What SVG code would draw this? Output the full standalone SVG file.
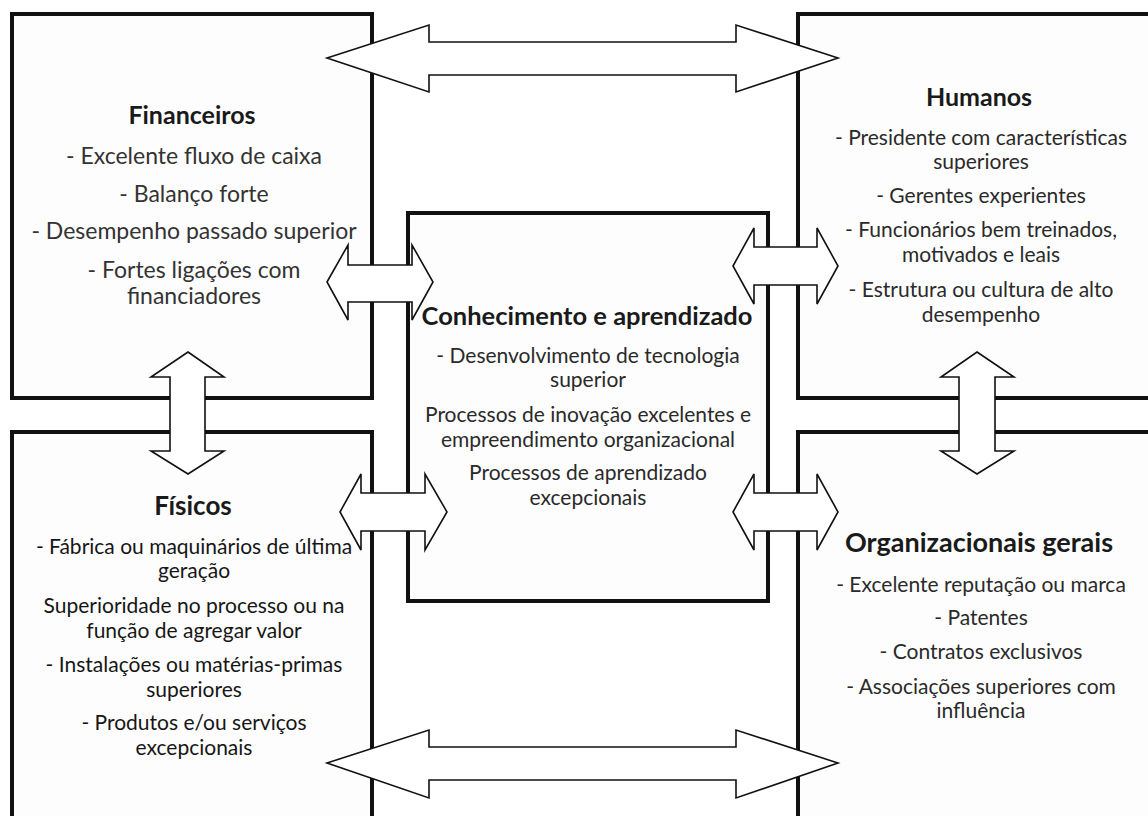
<svg xmlns="http://www.w3.org/2000/svg" width="1148" height="816" viewBox="0 0 1148 816">
  <style>
    .box { fill: #fdfdfd; stroke: #111; stroke-width: 4; }
    .arrow { fill: #ffffff; stroke: #111; stroke-width: 1.6; stroke-linejoin: miter; }
    text { font-family: Lato, "Open Sans", "Liberation Sans", sans-serif; text-anchor: middle; }
    .title { font-size: 25px; font-weight: bold; fill: #1a1a1a; }
    .title-lg { font-size: 26px; font-weight: bold; fill: #1a1a1a; }
    .body-lg { font-size: 23px; fill: #333; }
    .body { font-size: 21px; fill: #2a2a2a; }
    .body-dk { font-size: 21px; fill: #161616; }
  </style>
  <rect width="1148" height="816" fill="#ffffff"/>

  <!-- Financeiros -->
  <g id="financeiros">
    <rect class="box" x="12" y="14" width="360" height="384"/>
    <text class="title" x="192" y="124">Financeiros</text>
    <text class="body-lg" x="194" y="164">- Excelente fluxo de caixa</text>
    <text class="body-lg" x="194" y="202">- Balanço forte</text>
    <text class="body-lg" x="194" y="239">- Desempenho passado superior</text>
    <text class="body-lg" x="194" y="278">- Fortes ligações com</text>
    <text class="body-lg" x="194" y="304">financiadores</text>
  </g>

  <!-- Humanos -->
  <g id="humanos">
    <rect class="box" x="798" y="14" width="360" height="384"/>
    <text class="title" x="979" y="106">Humanos</text>
    <text class="body" x="981" y="145">- Presidente com características</text>
    <text class="body" x="981" y="169">superiores</text>
    <text class="body" x="981" y="203">- Gerentes experientes</text>
    <text class="body" x="981" y="237">- Funcionários bem treinados,</text>
    <text class="body" x="981" y="262">motivados e leais</text>
    <text class="body" x="981" y="297">- Estrutura ou cultura de alto</text>
    <text class="body" x="981" y="322">desempenho</text>
  </g>

  <!-- Físicos -->
  <g id="fisicos">
    <rect class="box" x="12" y="432" width="360" height="400"/>
    <text class="title-lg" x="193" y="515">Físicos</text>
    <text class="body-dk" x="194" y="554">- Fábrica  ou maquinários de última</text>
    <text class="body-dk" x="194" y="578">geração</text>
    <text class="body-dk" x="194" y="613">Superioridade no processo ou na</text>
    <text class="body-dk" x="194" y="638">função de agregar valor</text>
    <text class="body-dk" x="194" y="672">- Instalações ou matérias-primas</text>
    <text class="body-dk" x="194" y="697">superiores</text>
    <text class="body-dk" x="194" y="730">- Produtos e/ou serviços</text>
    <text class="body-dk" x="194" y="755">excepcionais</text>
  </g>

  <!-- Organizacionais gerais -->
  <g id="organizacionais">
    <rect class="box" x="798" y="432" width="360" height="400"/>
    <text class="title-lg" x="979" y="552" style="font-size:27px">Organizacionais gerais</text>
    <text class="body" x="981" y="592">- Excelente reputação ou marca</text>
    <text class="body" x="981" y="625">- Patentes</text>
    <text class="body" x="981" y="659">- Contratos exclusivos</text>
    <text class="body" x="981" y="694">- Associações superiores com</text>
    <text class="body" x="981" y="718">influência</text>
  </g>

  <!-- Conhecimento e aprendizado -->
  <g id="conhecimento">
    <rect class="box" x="408" y="213" width="360" height="388"/>
    <text class="title-lg" x="587" y="325" style="font-size:25.5px">Conhecimento e aprendizado</text>
    <text class="body" x="588" y="363">- Desenvolvimento de tecnologia</text>
    <text class="body" x="588" y="387">superior</text>
    <text class="body" x="588" y="422">Processos de inovação excelentes  e</text>
    <text class="body" x="588" y="447">empreendimento organizacional</text>
    <text class="body" x="588" y="480">Processos  de aprendizado</text>
    <text class="body" x="588" y="505">excepcionais</text>
  </g>

  <!-- Double-headed block arrows linking the resources -->
  <g id="connectors">
    <polygon class="arrow" points="327,58 429,25 429,42 736,42 736,25 838,58 736,92 736,75 429,75 429,92"/>
    <polygon class="arrow" points="327,763 429,730 429,747 736,747 736,730 838,763 736,798 736,780 429,780 429,798"/>
    <polygon class="arrow" points="188,352 224,377 205,377 205,451 224,451 188,474 151,451 170,451 170,377 151,377"/>
    <polygon class="arrow" points="977,352 1014,377 995,377 995,451 1014,451 977,474 941,451 959,451 959,377 941,377"/>
    <polygon class="arrow" points="327,282 348,245 348,265 412,265 412,245 433,282 412,320 412,302 348,302 348,320"/>
    <polygon class="arrow" points="340,512 361,474 361,493 425,493 425,474 447,512 425,550 425,531 361,531 361,550"/>
    <polygon class="arrow" points="733,266 754,228 754,247 817,247 817,228 838,266 817,304 817,285 754,285 754,304"/>
    <polygon class="arrow" points="733,512 754,474 754,493 817,493 817,474 838,512 817,550 817,531 754,531 754,550"/>
  </g>
</svg>
